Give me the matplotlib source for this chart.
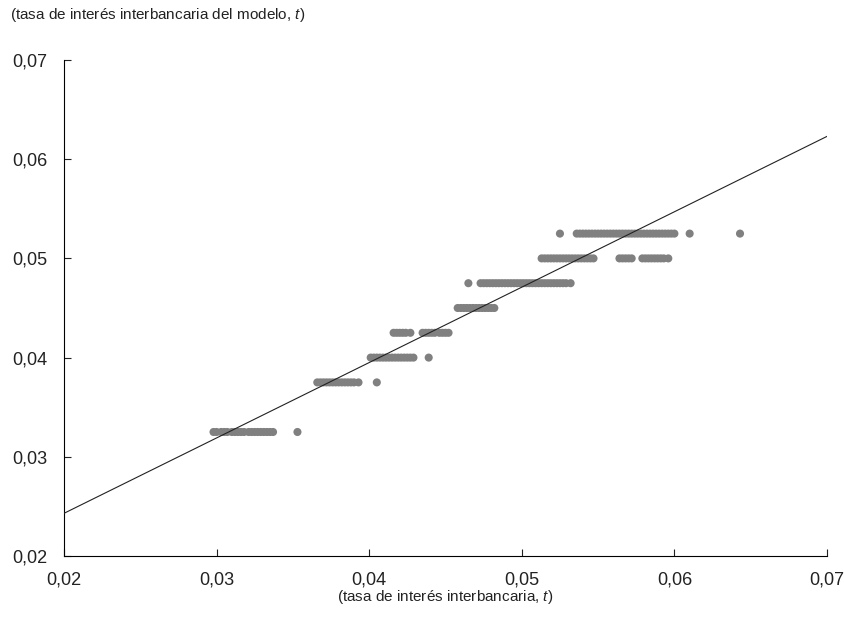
import numpy as np
import matplotlib
matplotlib.use("Agg")
import matplotlib.pyplot as plt
from matplotlib.ticker import FuncFormatter

plt.rcParams['font.family'] = ['Liberation Sans', 'DejaVu Sans']
plt.rcParams['mathtext.fontset'] = 'custom'
plt.rcParams['mathtext.rm'] = 'Liberation Sans'
plt.rcParams['mathtext.it'] = 'Liberation Sans:italic'

# tasa del modelo (bandas) y tasas observadas en cada banda
bandas = [0.0325, 0.0375, 0.04, 0.0425, 0.045, 0.0475, 0.05, 0.0525]

x_0325 = [0.0298, 0.0300, 0.0303, 0.0305, 0.0307, 0.0310, 0.0312, 0.0314, 0.0316,
          0.0318, 0.0321, 0.0323, 0.0325, 0.0327, 0.0329, 0.0331, 0.0333, 0.0335,
          0.0337, 0.0353]
x_0375 = [0.0366, 0.0368, 0.0370, 0.0372, 0.0374, 0.0376, 0.0378, 0.0380, 0.0382,
          0.0384, 0.0386, 0.0388, 0.0390, 0.0393, 0.0405]
x_0400 = [0.0401, 0.0403, 0.0405, 0.0407, 0.0409, 0.0411, 0.0413, 0.0415, 0.0417,
          0.0419, 0.0421, 0.0423, 0.0425, 0.0427, 0.0429, 0.0439]
x_0425 = [0.0416, 0.0418, 0.0420, 0.0422, 0.0424, 0.0427, 0.0435, 0.0437, 0.0439,
          0.0441, 0.0443, 0.0446, 0.0448, 0.0450, 0.0452]
x_0450 = [0.0458, 0.0460, 0.0462, 0.0464, 0.0466, 0.0468, 0.0470, 0.0472, 0.0474,
          0.0476, 0.0478, 0.0480, 0.0482]
x_0475 = [0.0465, 0.0473, 0.0475, 0.0477, 0.0479, 0.0481, 0.0483, 0.0485, 0.0487,
          0.0489, 0.0491, 0.0493, 0.0495, 0.0497, 0.0499, 0.0501, 0.0503, 0.0505,
          0.0507, 0.0509, 0.0511, 0.0513, 0.0515, 0.0517, 0.0519, 0.0521, 0.0523,
          0.0525, 0.0527, 0.0529, 0.0532]
x_0500 = [0.0513, 0.0515, 0.0517, 0.0519, 0.0521, 0.0523, 0.0525, 0.0527, 0.0529,
          0.0531, 0.0533, 0.0535, 0.0537, 0.0539, 0.0541, 0.0543, 0.0545, 0.0547,
          0.0564, 0.0566, 0.0568, 0.0570, 0.0572,
          0.0579, 0.0581, 0.0583, 0.0585, 0.0587, 0.0589, 0.0591, 0.0593, 0.0596]
x_0525 = [0.0525, 0.0536, 0.0538, 0.0540, 0.0542, 0.0544, 0.0546, 0.0548, 0.0550,
          0.0552, 0.0554, 0.0556, 0.0558, 0.0560, 0.0562, 0.0564, 0.0566, 0.0568,
          0.0570, 0.0572, 0.0574, 0.0576, 0.0578, 0.0580, 0.0582, 0.0584, 0.0586,
          0.0588, 0.0590, 0.0592, 0.0594, 0.0596, 0.0598, 0.0600, 0.0610, 0.0643]
obs = [x_0325, x_0375, x_0400, x_0425, x_0450, x_0475, x_0500, x_0525]

# recta de ajuste
intercepto = 0.0091
pendiente = 0.76

ticks = [0.02, 0.03, 0.04, 0.05, 0.06, 0.07]

fig = plt.figure(figsize=(8.45, 6.39), dpi=100)
ax = fig.add_axes([0.0757, 0.1299, 0.903, 0.7762])

for b, xs in zip(bandas, obs):
    ax.scatter(xs, [b] * len(xs), s=34, color='#808080', edgecolors='none', zorder=2)

xl = np.array([0.02, 0.07])
ax.plot(xl, intercepto + pendiente * xl, color='#222222', lw=0.8, zorder=3)

ax.set_xlim(0.02, 0.07)
ax.set_ylim(0.02, 0.07)
ax.set_xticks(ticks)
ax.set_yticks(ticks)
fmt = FuncFormatter(lambda v, p: f"{v:.2f}".replace('.', ','))
ax.xaxis.set_major_formatter(fmt)
ax.yaxis.set_major_formatter(fmt)
ax.tick_params(direction='in', length=5, width=0.8, labelsize=13, colors='#222222')
ax.tick_params(axis='x', pad=11)
ax.tick_params(axis='y', pad=12)

ax.spines['top'].set_visible(False)
ax.spines['right'].set_visible(False)
ax.spines['left'].set_linewidth(0.8)
ax.spines['bottom'].set_linewidth(0.8)

fig.text(0.012, 0.976, r"(tasa de interés interbancaria del modelo, $t$)",
         fontsize=11, ha='left', va='center', color='#222222')
fig.text(0.527, 0.066, r"(tasa de interés interbancaria, $t$)",
         fontsize=11, ha='center', va='center', color='#222222')

fig.savefig('out.png', dpi=100)
